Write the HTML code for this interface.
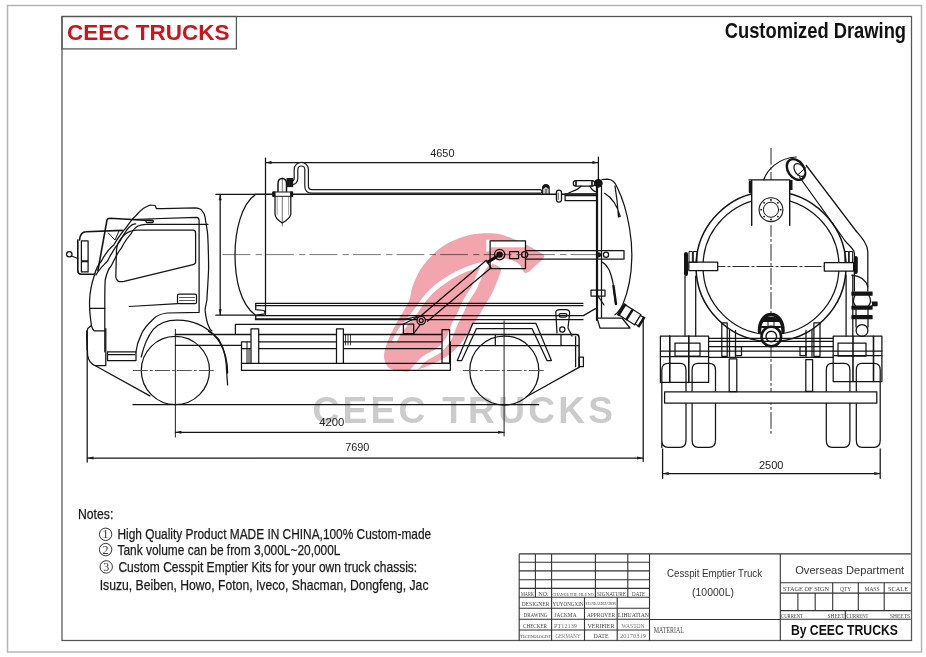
<!DOCTYPE html>
<html><head><meta charset="utf-8">
<style>
html,body{margin:0;padding:0;background:#fff;}
svg{display:block;}
text{font-family:"Liberation Sans",sans-serif;}
</style></head>
<body>
<svg width="926" height="657" viewBox="0 0 926 657">
<rect x="0" y="0" width="926" height="657" fill="#fff"/>
<!-- frames -->
<rect x="7.5" y="5.5" width="914" height="646.5" fill="none" stroke="#b4b4b4" stroke-width="1.5"/>
<rect x="62" y="16.5" width="849.5" height="624" fill="none" stroke="#555" stroke-width="1.25"/>
<rect x="62" y="16.5" width="174.4" height="32.4" fill="none" stroke="#555" stroke-width="1.25"/>
<text x="67" y="40.4" font-size="22.3" font-weight="bold" fill="#d0121b" textLength="162.5" lengthAdjust="spacingAndGlyphs">CEEC TRUCKS</text>
<text x="724.7" y="37.9" font-size="22.5" font-weight="bold" fill="#111" textLength="181.4" lengthAdjust="spacingAndGlyphs">Customized Drawing</text>

<!-- LOGO placeholder -->

<text x="312.5" y="422.8" font-size="37" font-weight="bold" fill="#cbcbcb" textLength="300.5" lengthAdjust="spacing">CEEC TRUCKS</text>
<g fill="none" stroke="#141414" stroke-width="1.25" stroke-linejoin="round" stroke-linecap="round">
<!-- ===== SIDE VIEW ===== -->
<!-- dimensions -->
<path d="M265.5,158 V315.2"/>
<path d="M598.4,157 V182"/>
<path d="M265.5,162.6 H598.4"/>
<path d="M215.9,194.3 H256"/>
<path d="M215.9,315.2 H256"/>
<path d="M220.2,194.3 V315.2"/>
<path d="M87.2,331 V462"/>
<path d="M643.2,320 V461.5"/>
<path d="M87.5,458 H643"/>
<path d="M175.4,329.4 V437" stroke="#333" stroke-width="1.1"/>
<path d="M504.1,320.7 V436" stroke="#333" stroke-width="1.1"/>
<path d="M175.4,432.3 H504.1"/>
<path d="M132.9,404.5 H538.7"/>
<!-- centerline tank -->
<path d="M223,254.6 H600" stroke-dasharray="27,6,5.5,5" stroke-width="1" stroke="#777"/>

<!-- cab outer contour -->
<path d="M87.2,350 L86.6,333.3 L87.8,328.4 L91.4,325.4 C90,316 89.4,305 89.6,300.4 C89.8,292 90.8,286 94.5,275 C96,268 98,265 101.5,261 C106,252 110,248 113.7,245 C118,238 121,233 125.9,228 C130,222 132,219 135.6,216 C139,212 142,209 145.4,207.3 L150.3,205 L155.1,205.5 L156.4,208.5 L162.4,208.5 L194.8,207.8 C199,208 201,209 201.7,210.4 C204,213 205,215 205.1,217.3 C206,225 207.5,230 207.7,234.6 C208.5,250 208.6,260 208.6,269.1 C208,285 207,295 206.9,300 C206,305 205,308 205.1,310.4 C206,318 207,323 208.6,326 C210,330 212,331 212,331"/>
<!-- A pillar line B -->
<path d="M96,275 C99,269 104,265 107.6,261 C112,252 116,246 119.8,241.4 C123,236 126,230 129.6,226.8 C132,224 134,223.6 135.6,223.8"/>
<!-- line C -->
<path d="M104.8,351.8 V300 C104.8,290 105,284 105.2,280 C107,272 109,268 111.3,265.8 C115,258 118,252 121,248.7 C124,243 127,238 130.8,234.1 C133,230 135,227.6 138,226 C141,224.8 144,224.4 146,224.3 L208,224.3"/>
<!-- door top & right edge -->
<path d="M130.8,219.5 L196.5,217.3 Q199.1,217.3 199.1,220.5 V312.4 L167.1,313 C160,314 156,316 153.3,319 C147,325 143,330 141.2,334.6 C138,341 136.5,347 136,351.8"/>
<!-- window -->
<path d="M137,230.2 L193,230.2 Q195.6,230.2 195.6,233 L195.6,262 Q195.6,264 193,264.6 L124,281.4 Q116.5,283 115.8,277 L116.5,250 C117,240 126,230.2 137,230.2 Z"/>
<!-- door handle -->
<rect x="177.5" y="294.2" width="19" height="9.5" rx="1.5"/>
<path d="M179.5,297.5 H194.5 M179.5,300.5 H194.5" stroke-width="0.7"/>
<path d="M129.2,306.5 L177.5,303.7"/>
<path d="M90.2,308.4 H104.8"/>
<!-- fender arch inner -->
<path d="M141.2,357 C144,345 148,336 153.3,329.4 C160,322 170,320 177.4,320.1 C186,320.3 192,321.5 197.4,323.8 C204,326.5 209,330 213.9,334.7 C218,339 221,344 223,349.3 C225.5,356 226.5,364 226.6,371.2 L227.6,385"/>
<path d="M208.4,331.1 C213,334 217,337 219.3,340.2 C222,345 224.5,351 225.7,356.6 C227,362 227.6,368 227.6,373"/>
<!-- bumper -->
<path d="M86.8,331 L87.6,355.3 C88.5,361 91,364 95.4,365.7 L105.8,365.7 V328.5"/>
<path d="M91.4,325.4 C92,328 93,330 94,330.9 L104.8,330.9"/>
<!-- step -->
<rect x="107.5" y="351.8" width="28.5" height="8.7"/>
<path d="M108.5,354.5 H135"/>
<!-- approach line -->
<path d="M95.4,365.7 L149.8,395.9"/>
<!-- front wheel -->
<circle cx="175.4" cy="370.5" r="34.1"/>
<path d="M133.4,370.5 H216.4" stroke-dasharray="14,3,2,3" stroke="#555" stroke-width="1"/>
<!-- mirror -->
<path d="M97.9,270.6 L107,220 Q107.6,218.3 110,218.3 L152.7,220.7" stroke-width="1.6"/>
<rect x="146" y="220.1" width="7.3" height="2.4" rx="1"/>
<path d="M79.5,240 C80,235 82,231.7 86,231.7 L122.2,230.4" stroke-width="1.6"/>
<path d="M108.3,233 L115,240 L119,231" stroke-width="1"/>
<path d="M77.8,240 V271 Q78,274 81,274.3 L94.8,274.3" stroke-width="1.6"/>
<rect x="81.4" y="240.8" width="6.7" height="20.1"/>
<rect x="81.4" y="261.5" width="6.7" height="10.4"/>
<circle cx="69.3" cy="254.2" r="2.7"/>
<path d="M71.5,256 L77.8,258.5"/>

<!-- tank -->
<path d="M256,194.3 H597" stroke-width="1.5"/>
<path d="M255.8,194.3 C241,204 235,232 235,254.7 C235,278 240,304 255.3,315"/>
<path d="M255.7,303.3 H583 M255.7,305.6 H583 M255.7,303.3 V309.7 L264,310.5 L265.5,313.8 L255.7,315.2 M255.7,315.2 V319.7 H583"/>
<!-- pipe on top -->
<path d="M292,183 C295,182.5 296,181 296,178 L296,169.5 C296,166.5 298.5,164.2 301.3,164.2 C304.1,164.2 306.6,166.5 306.6,169.5 L306.6,186 C306.6,189.5 308.5,191.4 312,191.4 L540,191.4" stroke="#1c1c1c" stroke-width="4.8"/>
<path d="M292,183 C295,182.5 296,181 296,178 L296,169.5 C296,166.5 298.5,164.2 301.3,164.2 C304.1,164.2 306.6,166.5 306.6,169.5 L306.6,186 C306.6,189.5 308.5,191.4 312,191.4 L540,191.4" stroke="#fff" stroke-width="2.4"/>
<path d="M278,192 V184 C278,180.5 280,178.6 282.2,178.6 C284.5,178.6 286.5,180.5 286.5,184 V192" fill="#fff" stroke-width="1.5"/>
<rect x="286.5" y="178" width="6.7" height="9.1" fill="#1a1a1a" stroke="none"/>
<!-- filter -->
<path d="M275,196.3 V214 C275,218 279,221 282.3,223 C285.6,221 290.8,218 290.8,214 V196.3" fill="#fff"/>
<path d="M277.2,197 V215 M288.6,197 V215" stroke="#888" stroke-width="0.8"/>
<path d="M282.3,178 V226" stroke-width="0.6"/>
<rect x="273.1" y="192" width="19.5" height="4.3" fill="#fff" stroke-width="1"/>
<rect x="272.6" y="191.5" width="3" height="5.3" fill="#141414" stroke="none"/>
<rect x="290.1" y="191.5" width="3" height="5.3" fill="#141414" stroke="none"/>
<!-- top fittings near rear -->
<path d="M542.7,193.8 V188.5 C542.7,185.8 544.3,184.5 545.9,184.5 C547.5,184.5 549.1,185.8 549.1,188.5 V193.8"/>
<path d="M543.5,187.5 C543.8,185.5 548,185.5 548.3,187.5" stroke-width="2.5"/>
<path d="M545.2,189 V193.8 M546.8,189 V193.8" stroke-width="0.8"/>
<rect x="556.4" y="190.2" width="5.1" height="11.8" rx="2.5" fill="#fff"/>
<path d="M558.2,193 V199.5" stroke-width="0.8"/>
<rect x="573.3" y="180.6" width="21.5" height="5.5" rx="2.7" fill="#fff"/>
<path d="M576,181 V185.7 M592,181 V185.7" stroke-width="1.6"/>
<path d="M581,186 C578,190 571,191.5 566,194.3 M590,186 C591,189 593,191 596.6,192"/>
<rect x="565.1" y="193.8" width="31.5" height="6.9" fill="#fff"/>
<path d="M566,195.3 H596" stroke-width="2"/>
<!-- rear wall plates -->
<path d="M597,186 V320" stroke-width="2.2"/>
<path d="M601.5,186 V320"/>
<circle cx="598.4" cy="183.3" r="3.7" fill="#141414"/>
<!-- rear door arc -->
<path d="M602,179.5 L607.6,179.2 C612,179.5 615,182 617,187 C622,197 627,213 629.5,228 C631.5,240 632,250 631.8,258 C631.5,275 628,292 622.8,304.5 C620,310 617.5,313 615,314.8"/>
<path d="M604.6,193.3 C611,197 617,205 620.2,216.5 L618.5,217 C617.8,206 616.5,195 615,186"/>
<!-- horizontal pipe through centerline -->
<path d="M526,250.7 H624 V259.2 H526"/>
<circle cx="606" cy="254.8" r="2.6"/>
<circle cx="598.5" cy="254.8" r="2" fill="#222"/>
<!-- logo box & arm -->
<rect x="490.1" y="240.8" width="35.4" height="27.7"/>
<circle cx="499.6" cy="254.6" r="5.2"/>
<circle cx="499.6" cy="254.6" r="2.6" fill="#222"/>
<rect x="509.6" y="251.7" width="9" height="6.9"/>
<circle cx="524.6" cy="254.6" r="3.1"/>
<path d="M417.8,318.5 L486.3,260.3 L491.1,267.8 L427.4,321.2"/>
<path d="M488,262 L496,257" stroke-width="3.2"/>
<circle cx="421.2" cy="320.5" r="4.2" fill="#fff"/>
<circle cx="421.2" cy="320.5" r="2"/>
<path d="M403.4,324 L417,317.5 M413.7,333.6 L420,325"/>
<!-- rear mechanism -->
<path d="M602,262 C608,265 611,272 613,283 L615.5,304"/>
<path d="M613.5,286 L616,304" stroke-width="2.4"/>
<rect x="591" y="290" width="14" height="6"/>
<path d="M598,296 L604,305"/>
<path d="M597,318 H622 L630,328 H600 Z" fill="#fff"/>
<g transform="translate(631,315.5) rotate(32)">
<rect x="-11" y="-6" width="19" height="12" fill="#fff" stroke-width="1.2"/>
<rect x="-12.5" y="-7" width="3" height="14" fill="#141414" stroke="none"/>
<rect x="-3" y="-6.5" width="2.5" height="13" fill="#141414" stroke="none"/>
<rect x="8" y="-5" width="4" height="10" fill="#fff" stroke-width="1.2"/>
<rect x="11" y="-6" width="2.5" height="12" fill="#141414" stroke="none"/>
</g>

<!-- chassis frame -->
<path d="M235.4,334 V324.4 H404 M255.3,318.9 H407 L419,316"/>
<rect x="403.4" y="324" width="10.3" height="9.6"/>
<path d="M175.4,334.5 H576.5 Q579.1,334.5 579.1,338 V367.4" stroke-width="1.5"/>
<path d="M175.4,345.3 H241.5 M450.4,345.6 H579"/>
<path d="M345.5,335 V345 M348,335 V345 M350.5,335 V345" stroke-width="0.8"/>
<path d="M241.5,341.8 V370.3 H450.4 V341.8 Z"/>
<path d="M241.5,348.7 H450.4 M241.5,363.4 H450.4"/>
<path d="M247,342 V363.4 M249,348.7 V363.4" stroke-width="1"/>
<rect x="251" y="328.9" width="7.7" height="34.5" fill="#fff"/>
<rect x="336.5" y="328.9" width="6.9" height="34.5" fill="#fff"/>
<rect x="442" y="329.6" width="7.6" height="33.5" fill="#fff"/>
<path d="M256,315.6 H583.4 L595.5,308.6"/>
<rect x="579.1" y="357" width="4.3" height="9.5"/>
<path d="M575.6,336.5 V366.7"/>
<path d="M579,367.4 L526.4,396.8"/>
<!-- rear mudguard -->
<path d="M457.3,360.5 L472.8,323.3 H535.9 L551.4,360.5 L547,360.5 L532,328.5 H476.5 L461.7,360.5 Z"/>
<path d="M495.3,335 V345.5 M561,335 V345.5"/>
<!-- bracket -->
<path d="M557,333 L555.8,312 Q556,309.5 560,309.5 H566 Q569.6,309.5 569.6,313 L568,328 L572,336"/>
<rect x="559" y="313.5" width="8" height="3.5" rx="1.7"/>
<circle cx="562.3" cy="329.4" r="2.6"/>
<!-- rear wheel -->
<circle cx="504.3" cy="370.5" r="34.5"/>
<path d="M463.3,370.5 H545.4" stroke-dasharray="14,3,2,3" stroke="#555" stroke-width="1"/>

<!-- ===== REAR VIEW ===== -->
<path d="M771,148.4 V434.7" stroke-dasharray="16,3,2,3" stroke-width="0.9"/>
<path d="M685,266.5 H856" stroke-dasharray="16,3,2,3" stroke-width="0.9"/>
<circle cx="771" cy="266.5" r="75" stroke-width="1.5"/>
<circle cx="771" cy="266.5" r="68"/>
<rect x="751.7" y="179.9" width="38" height="45.3" fill="#fff" stroke="none"/>
<path d="M749,179.9 H789.7 M751.7,179.9 V225.2 M789.7,179.9 V225.2" stroke-width="1.4"/>
<path d="M750,182 V192" stroke-width="2.5"/>
<circle cx="771" cy="209.7" r="11.9" stroke-width="1.1"/>
<circle cx="771" cy="209.7" r="7.6" stroke-width="1"/><circle cx="780.8" cy="209.7" r="0.9" fill="#141414" stroke="none"/><circle cx="777.9" cy="216.6" r="0.9" fill="#141414" stroke="none"/><circle cx="771.0" cy="219.5" r="0.9" fill="#141414" stroke="none"/><circle cx="764.1" cy="216.6" r="0.9" fill="#141414" stroke="none"/><circle cx="761.2" cy="209.7" r="0.9" fill="#141414" stroke="none"/><circle cx="764.1" cy="202.8" r="0.9" fill="#141414" stroke="none"/><circle cx="771.0" cy="199.9" r="0.9" fill="#141414" stroke="none"/><circle cx="777.9" cy="202.8" r="0.9" fill="#141414" stroke="none"/>
<path d="M763.7,179.9 C767,170 778,158 796,157"/>
<ellipse cx="796" cy="169.5" rx="8" ry="11.3" transform="rotate(-35 796 169.5)" stroke-width="2.4" fill="#fff"/>
<ellipse cx="799.5" cy="170" rx="4.6" ry="7.2" transform="rotate(-35 799.5 170)" fill="#fff"/>
<path d="M797.5,175 L806,167.5" stroke-width="1"/>
<rect x="789.5" y="180" width="3" height="10" fill="#141414" stroke="none"/>
<path d="M806.3,165.5 L855.3,230 C861,237 867.8,244 867.8,251.8 V291"/>
<path d="M799.5,177 L844.5,240 C849,246 854.4,249 854.4,253.4 V291"/>
<path d="M851.9,275.2 C860,276 866,280 867.8,286.9"/>
<rect x="852" y="292" width="20" height="3.2" fill="#141414"/>
<path d="M855,295.5 C853,299 853,303 855.5,306 M869,295.5 C871,299 871,303 868.5,306"/>
<rect x="852" y="306" width="20" height="3" fill="#141414"/>
<path d="M856,309 V316 M868,309 V316"/>
<rect x="852" y="315.5" width="20" height="3.2" fill="#141414"/>
<path d="M872,302 H877 V305.5 H872" fill="#141414"/>
<path d="M856,318.7 V327 M868,318.7 V327"/>
<circle cx="862" cy="330.4" r="5.9"/>
<rect x="688.8" y="262.2" width="28.9" height="8.4" fill="#fff"/>
<rect x="824.3" y="262.6" width="29.3" height="8.4" fill="#fff"/>
<path d="M686,254 V274" stroke-width="4"/>
<rect x="689.4" y="251.5" width="3" height="10.9" stroke-width="1"/>
<rect x="693.7" y="251.5" width="3.3" height="10.9" stroke-width="1"/>
<path d="M855.8,258 V272" stroke-width="4"/>
<rect x="849.6" y="251.5" width="3" height="10.9" stroke-width="1"/>
<rect x="845.3" y="251.5" width="3.3" height="10.9" stroke-width="1"/>
<path d="M685,276 V336 M695.7,276 V336 M846.1,275 V336 M852.8,275 V336"/>
<path d="M721.8,322.8 H727.2 V356.3 H721.8 Z M813.9,322.8 H820 V356.3 H813.9 Z M729.5,330.4 V356.3 M735.5,330.4 V356.3 M806,330.4 V356.3 M812,330.4 V356.3"/>
<rect x="735.5" y="346.5" width="6" height="9" /><rect x="800" y="346.5" width="6" height="9"/>
<!-- bottom outlet -->
<path d="M759.5,332 C759,322 764,314.5 771.2,314.5 C778.5,314.5 783.5,322 783,332" fill="#fff" stroke-width="3.4"/>
<path d="M762,318.5 C766,316 776,316 780,318.5 L781,322 H761.5 Z" fill="#141414" stroke="none"/>
<path d="M762,327 H780" stroke-width="2.2"/>
<path d="M768,322 V326 M774,322 V326" stroke-width="1"/>
<circle cx="771.3" cy="336.5" r="9.8" fill="#fff" stroke-width="2.6"/>
<circle cx="771.3" cy="336.5" r="5.3" stroke-width="1.4"/>
<!-- rear frame -->
<rect x="660.4" y="336" width="48.2" height="46.4"/>
<rect x="833.2" y="336.2" width="48.7" height="45.3"/>
<path d="M660.4,351.2 H708.6 M660.4,356.5 H708.6 M833.2,351.1 H881.9 M833.2,355.7 H881.9"/>
<path d="M669.8,336 V382.4 M688.8,336 V382.4 M853,336.2 V381.5 M873.5,336.2 V381.5" stroke-width="1.6"/>
<path d="M708.6,338.3 H833.2 M708.6,341.3 H833.2 M708.6,346.5 H833.2 M708.6,351.2 H833.2 M708.6,357.3 H833.2"/>
<path d="M675,343 H700 V356 H675 Z M838,343 H866 V356 H838 Z"/>
<!-- tires -->
<path d="M661.8,447.4 V370 Q662,363.4 668,363.4 H680 Q686,363.4 686,370 V440 Q686,447.4 680,447.4 H668 Q661.8,447.4 661.8,440"/>
<path d="M692.1,370 Q692.1,363.4 698,363.4 H709 Q715.5,363.4 715.5,370 V440 Q715.5,447.4 709,447.4 H698 Q692.1,447.4 692.1,440 Z"/>
<path d="M826.3,370 Q826.3,363.4 832,363.4 H844 Q849.9,363.4 849.9,370 V440 Q849.9,447.4 844,447.4 H832 Q826.3,447.4 826.3,440 Z"/>
<path d="M856.3,370 Q856.3,363.4 862,363.4 H874 Q880.2,363.4 880.2,370 V440 Q880.2,447.4 874,447.4 H862 Q856.3,447.4 856.3,440 Z"/>
<rect x="664.6" y="391.8" width="212.2" height="11.2" fill="#fff"/>
<rect x="729.2" y="358.8" width="7.6" height="32.7" fill="#fff"/>
<rect x="805.8" y="359.5" width="6.8" height="31.9" fill="#fff"/>
<!-- 2500 dim -->
<path d="M662.6,448.8 V478.3 M880.2,448.8 V478.3 M662.6,473.5 H880.2"/>
</g>
<!-- LOGO -->
<defs>
<mask id="lm" maskUnits="userSpaceOnUse" x="0" y="0" width="926" height="657">
<rect x="0" y="0" width="926" height="657" fill="#000"/>
<path fill="#fff" d="M495.0,233.6 C501.1,234.2 505.8,236.0 511.3,238.0 C516.8,240.0 523.4,243.3 528.1,245.7 C532.9,248.1 537.1,250.3 539.8,252.2 C542.5,254.0 544.8,254.6 544.2,256.8 C543.6,259.0 539.1,262.5 536.0,265.2 C532.9,267.9 528.3,273.2 525.5,273.0 C522.7,272.8 521.9,266.3 519.0,264.0 C516.1,261.7 511.8,259.8 508.0,259.0 C504.2,258.2 498.7,258.8 496.0,259.5 C493.3,260.2 491.2,261.5 492.0,263.0 C492.8,264.5 499.9,265.9 500.8,268.7 C501.7,271.5 499.2,275.5 497.6,279.9 C496.0,284.2 493.3,290.5 491.2,294.8 C489.1,299.1 487.1,301.6 484.8,305.5 C482.5,309.4 479.7,314.6 477.4,318.3 C475.1,322.0 473.6,323.9 471.0,327.9 C468.4,331.8 465.5,337.6 462.0,342.0 C458.5,346.4 454.0,350.8 450.0,354.0 C446.0,357.2 442.3,359.3 438.0,361.5 C433.7,363.7 428.8,365.8 424.0,367.4 C419.2,369.0 413.7,370.8 409.0,371.3 C404.3,371.8 399.6,371.4 396.0,370.6 C392.4,369.8 389.5,368.8 387.5,366.5 C385.5,364.2 384.2,360.4 384.0,357.0 C383.8,353.6 384.9,349.7 386.0,346.0 C387.1,342.3 388.8,338.8 390.5,335.0 C392.2,331.2 394.4,326.8 396.5,323.0 C398.6,319.2 400.8,315.8 403.0,312.0 C405.2,308.2 408.0,304.0 409.5,300.0 C411.0,296.0 410.9,291.7 412.1,287.8 C413.3,283.9 414.8,280.2 416.7,276.4 C418.6,272.6 420.8,268.6 423.5,265.0 C426.2,261.4 429.3,257.9 432.7,254.7 C436.1,251.4 439.9,248.2 444.1,245.5 C448.3,242.8 452.7,240.6 457.8,238.7 C462.9,236.8 468.7,234.9 474.9,234.1 C481.1,233.2 488.9,232.9 495.0,233.6 Z"/>
<path fill="none" stroke="#000" stroke-width="4.8" stroke-linecap="butt" d="M492.0,262.5 C489.1,263.1 480.6,264.5 474.9,266.3 C469.2,268.1 463.1,270.6 457.8,273.2 C452.5,275.8 447.4,279.0 443.0,282.0 C438.6,285.0 434.8,288.1 431.5,291.2 C428.2,294.3 426.1,297.2 423.5,300.5 C420.9,303.8 418.6,307.6 416.0,311.0 C413.4,314.4 410.7,317.7 408.0,321.0 C405.3,324.3 402.3,327.5 400.0,331.0 C397.7,334.5 395.0,340.2 394.0,342.0"/>
<path fill="none" stroke="#000" stroke-width="5.6" stroke-linecap="butt" d="M488.0,262.0 C486.9,263.5 483.8,266.7 481.5,271.0 C479.2,275.3 476.5,283.2 474.0,288.0 C471.5,292.8 468.9,295.5 466.5,300.0 C464.1,304.5 461.3,311.0 459.4,315.0 C457.4,319.0 456.7,319.8 454.8,324.0 C452.9,328.2 450.8,335.5 448.0,340.0 C445.2,344.5 442.0,347.8 438.0,351.0 C434.0,354.2 428.5,355.3 424.0,359.0 C419.5,362.7 413.2,370.7 411.0,373.0"/>
<rect x="486.3" y="239.8" width="4.6" height="11.5" fill="#000"/>
<rect x="490" y="241" width="35.5" height="6.3" fill="#000"/>
</mask>
</defs>
<rect x="370" y="220" width="190" height="160" fill="#f2a5ad" mask="url(#lm)" style="mix-blend-mode:multiply"/>
<!-- arrows -->
<g fill="#1c1c1c" stroke="none">
<path d="M265.5,162.6 l6,-1.5 v3 z"/><path d="M598.4,162.6 l-6,-1.5 v3 z"/>
<path d="M220.2,194.3 l-1.5,6 h3 z"/><path d="M220.2,315.2 l-1.5,-6 h3 z"/>
<path d="M175.4,432.3 l6,-1.5 v3 z"/><path d="M504.1,432.3 l-6,-1.5 v3 z"/>
<path d="M87.5,458 l6,-1.5 v3 z"/><path d="M643,458 l-6,-1.5 v3 z"/>
<path d="M662.6,473.5 l6,-1.5 v3 z"/><path d="M880.2,473.5 l-6,-1.5 v3 z"/>
</g>
<!-- watermark -->


<!-- dimension texts -->
<g font-size="11" fill="#222">
<text x="430.2" y="156.5" textLength="24.3" lengthAdjust="spacingAndGlyphs">4650</text>
<text x="319.2" y="425.6" textLength="25.2" lengthAdjust="spacingAndGlyphs">4200</text>
<text x="345.2" y="451.2" textLength="24.2" lengthAdjust="spacingAndGlyphs">7690</text>
<text x="758.9" y="469.3" textLength="24.5" lengthAdjust="spacingAndGlyphs">2500</text>
</g>

<!-- notes -->
<g fill="#1a1a1a" font-size="14.6" stroke="#1a1a1a" stroke-width="0.25">
<text x="77.9" y="518.6" font-size="14.6" textLength="35.4" lengthAdjust="spacingAndGlyphs">Notes:</text>
<text x="117.5" y="538.8" textLength="313.7" lengthAdjust="spacingAndGlyphs">High Quality Product MADE IN CHINA,100% Custom-made</text>
<text x="117.5" y="554.8" textLength="223" lengthAdjust="spacingAndGlyphs">Tank volume can be from 3,000L~20,000L</text>
<text x="118.4" y="571.5" textLength="298.8" lengthAdjust="spacingAndGlyphs">Custom Cesspit Emptier Kits for your own truck chassis:</text>
<text x="99.7" y="589.7" textLength="328.8" lengthAdjust="spacingAndGlyphs">Isuzu, Beiben, Howo, Foton, Iveco, Shacman, Dongfeng, Jac</text>
</g>
<g fill="none" stroke="#333" stroke-width="1">
<circle cx="105.6" cy="534.3" r="6.2"/>
<circle cx="105.6" cy="549.6" r="6.2"/>
<circle cx="106.2" cy="566.9" r="6.2"/>
</g>
<g fill="#333" font-size="12" font-family="Liberation Serif" text-anchor="middle">
<text x="105.6" y="538.2" style="font-family:'Liberation Serif'">1</text>
<text x="105.6" y="553.5" style="font-family:'Liberation Serif'">2</text>
<text x="106.2" y="570.8" style="font-family:'Liberation Serif'">3</text>
</g>

<!-- TITLE BLOCK -->
<g fill="none" stroke="#333" stroke-width="1.1">
<path d="M519.2,553.9 H910.8 M519.2,553.9 V640.6 M649.5,553.9 V640.6 M780.3,553.9 V640.6"/>
<path d="M519.2,562.3 H649.5 M519.2,570.9 H649.5 M519.2,579.8 H649.5 M519.2,588.4 H649.5 M519.2,597.2 H649.5 M519.2,608.2 H649.5 M519.2,619.2 H649.5 M519.2,630 H649.5"/>
<path d="M535.4,553.9 V597.2 M551.6,553.9 V640.6 M595.4,553.9 V597.2 M627.8,553.9 V597.2 M584.5,597.2 V640.6 M617.2,597.2 V640.6"/>
<path d="M649.5,619.5 H780.3"/>
<path d="M780.3,582.7 H910.8 M780.3,593.1 H910.8 M780.3,610.6 H910.8 M780.3,619.2 H910.8"/>
<path d="M832.7,582.7 V610.6 M858.3,582.7 V610.6 M884.2,582.7 V610.6 M797.9,593.1 V610.6 M815.2,593.1 V610.6 M845.3,610.6 V619.2"/>
</g>
<g fill="#444" font-family="Liberation Serif" font-size="6.5" style="font-family:'Liberation Serif'">
<text x="521" y="595.6" font-size="5.2" textLength="13" lengthAdjust="spacingAndGlyphs" style="font-family:'Liberation Serif'">MARK</text>
<text x="538.5" y="595.6" font-size="5.2" textLength="10" lengthAdjust="spacingAndGlyphs" style="font-family:'Liberation Serif'">NO.</text>
<text x="552.5" y="595.6" font-size="4" textLength="42" lengthAdjust="spacingAndGlyphs" style="font-family:'Liberation Serif'">CHANGE THE FILE NO.</text>
<text x="597" y="595.6" font-size="5.2" textLength="29" lengthAdjust="spacingAndGlyphs" style="font-family:'Liberation Serif'">SIGNATURE</text>
<text x="632" y="595.6" font-size="5.2" textLength="13" lengthAdjust="spacingAndGlyphs" style="font-family:'Liberation Serif'">DATE</text>
<text x="521.5" y="605.8" font-size="6.5" textLength="28" lengthAdjust="spacingAndGlyphs" style="font-family:'Liberation Serif'">DESIGNER</text>
<text x="552.5" y="605.8" font-size="6.5" textLength="31" lengthAdjust="spacingAndGlyphs" style="font-family:'Liberation Serif'">YUYONGXIN</text>
<text x="585.5" y="604.5" font-size="3.5" textLength="30.5" lengthAdjust="spacingAndGlyphs" style="font-family:'Liberation Serif'">STANDARDIZATION</text>
<text x="523.5" y="616.5" font-size="6.5" textLength="24" lengthAdjust="spacingAndGlyphs" style="font-family:'Liberation Serif'">DRAWING</text>
<text x="554.5" y="616.5" font-size="6.5" textLength="22" lengthAdjust="spacingAndGlyphs" style="font-family:'Liberation Serif'">JACKMA</text>
<text x="587" y="616.5" font-size="6.5" textLength="28" lengthAdjust="spacingAndGlyphs" style="font-family:'Liberation Serif'">APPROVER</text>
<text x="618" y="616.5" font-size="6.5" textLength="31" lengthAdjust="spacingAndGlyphs" style="font-family:'Liberation Serif'">LIHUATIAN</text>
<text x="523" y="627.5" font-size="6.5" textLength="24" lengthAdjust="spacingAndGlyphs" style="font-family:'Liberation Serif'">CHECKER</text>
<text x="554" y="627.8" font-size="6" textLength="23" lengthAdjust="spacingAndGlyphs" style="font-family:'Liberation Serif'" fill="#777">PT12139</text>
<text x="587.5" y="627.5" font-size="6.5" textLength="27" lengthAdjust="spacingAndGlyphs" style="font-family:'Liberation Serif'">VERIFIER</text>
<text x="621.5" y="627.5" font-size="5.5" textLength="23" lengthAdjust="spacingAndGlyphs" style="font-family:'Liberation Serif'" fill="#777">WASTON</text>
<text x="520" y="638" font-size="5" textLength="31" lengthAdjust="spacingAndGlyphs" style="font-family:'Liberation Serif'">TECHNOLOGIST</text>
<text x="555.5" y="638" font-size="6" textLength="25" lengthAdjust="spacingAndGlyphs" style="font-family:'Liberation Serif'" fill="#777">GERMANY</text>
<text x="593.5" y="638" font-size="6.5" textLength="15" lengthAdjust="spacingAndGlyphs" style="font-family:'Liberation Serif'">DATE</text>
<text x="620" y="638" font-size="6" textLength="26" lengthAdjust="spacingAndGlyphs" style="font-family:'Liberation Serif'" fill="#777">20170319</text>
<text x="653.8" y="633" font-size="7.2" textLength="30" lengthAdjust="spacingAndGlyphs" style="font-family:'Liberation Serif'">MATERIAL</text>
<text x="783" y="590.5" font-size="6" textLength="46" lengthAdjust="spacingAndGlyphs" style="font-family:'Liberation Serif'">STAGE OF SIGN</text>
<text x="840" y="590.5" font-size="6" textLength="11" lengthAdjust="spacingAndGlyphs" style="font-family:'Liberation Serif'">QTY</text>
<text x="864.5" y="590.5" font-size="6" textLength="15" lengthAdjust="spacingAndGlyphs" style="font-family:'Liberation Serif'">MASS</text>
<text x="888" y="590.5" font-size="6" textLength="20" lengthAdjust="spacingAndGlyphs" style="font-family:'Liberation Serif'">SCALE</text>
<text x="781" y="617.8" font-size="5.8" textLength="22" lengthAdjust="spacingAndGlyphs" style="font-family:'Liberation Serif'">CURRENT</text>
<text x="827.5" y="617.8" font-size="5.8" textLength="17" lengthAdjust="spacingAndGlyphs" style="font-family:'Liberation Serif'">SHEET</text>
<text x="846.5" y="617.8" font-size="5.8" textLength="22" lengthAdjust="spacingAndGlyphs" style="font-family:'Liberation Serif'">CURRENT</text>
<text x="890" y="617.8" font-size="5.8" textLength="20" lengthAdjust="spacingAndGlyphs" style="font-family:'Liberation Serif'">SHEETS</text>
</g>
<g fill="#333" font-size="11">
<text x="714.5" y="577.4" text-anchor="middle" textLength="95" lengthAdjust="spacingAndGlyphs">Cesspit Emptier Truck</text>
<text x="713" y="596" text-anchor="middle" textLength="42" lengthAdjust="spacingAndGlyphs">(10000L)</text>
<text x="849.7" y="573.8" text-anchor="middle" font-size="11.5" textLength="109" lengthAdjust="spacingAndGlyphs">Overseas Department</text>
</g>
<text x="790.9" y="635.3" font-size="14.3" font-weight="bold" fill="#111" textLength="107" lengthAdjust="spacingAndGlyphs">By CEEC TRUCKS</text>
</svg>
</body></html>
